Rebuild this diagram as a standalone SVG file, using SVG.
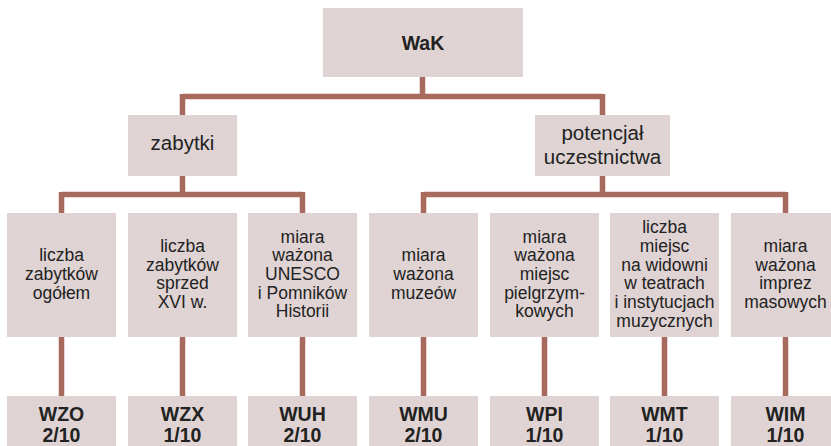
<svg xmlns="http://www.w3.org/2000/svg" width="831" height="446" viewBox="0 0 831 446">
<style>
.box{fill:#DFD4D3}
.ln{stroke:#A86A5D;stroke-width:5.5;fill:none}
text{font-family:"Liberation Sans","Noto Sans",sans-serif;fill:#222;text-anchor:middle}
.b{font-weight:bold;font-size:19.5px}
.m{font-size:20.5px}
.s{font-size:17.5px}
</style>
<rect width="831" height="446" fill="#fff"/>
<g id="connectors">
<path class="ln" d="M422.5 77V96.5M182.5 96.5H602.5M182.5 94V115M602.5 94V115"/>
<path class="ln" d="M182.5 176V194.5M61.5 194.5H302.5M61.5 192V213M302.5 192V213"/>
<path class="ln" d="M602.5 176V194.5M423.5 194.5H785.5M423.5 192V213M785.5 192V213"/>
<path class="ln" d="M61.5 337V396M182.5 337V396M302.5 337V396M423.5 337V396M544.5 337V396M664.5 337V396M785.5 337V396"/>
</g>
<g id="wak"><rect class="box" x="323" y="8" width="200" height="69"/><text class="b" x="423" y="50">WaK</text></g>
<g id="zabytki"><rect class="box" x="128" y="115" width="109" height="61"/><text class="m" x="182.5" y="150">zabytki</text></g>
<g id="potencjal"><rect class="box" x="535" y="115" width="135" height="61"/><text class="m" x="602.5" y="140">potencjał</text><text class="m" x="602.5" y="164">uczestnictwa</text></g>

<g id="n1"><rect class="box" x="7" y="213" width="109" height="124"/><text class="s" x="61.5" y="261.3">liczba</text><text class="s" x="61.5" y="280">zabytków</text><text class="s" x="61.5" y="298.7">ogółem</text></g>
<g id="n2"><rect class="box" x="128" y="213" width="109" height="124"/><text class="s" x="182.5" y="252">liczba</text><text class="s" x="182.5" y="270.7">zabytków</text><text class="s" x="182.5" y="289.3">sprzed</text><text class="s" x="182.5" y="308">XVI w.</text></g>
<g id="n3"><rect class="box" x="248" y="213" width="109" height="124"/><text class="s" x="302.5" y="242.6">miara</text><text class="s" x="302.5" y="261.3">ważona</text><text class="s" x="302.5" y="280">UNESCO</text><text class="s" x="302.5" y="298.7">i Pomników</text><text class="s" x="302.5" y="317.4">Historii</text></g>
<g id="n4"><rect class="box" x="369" y="213" width="109" height="124"/><text class="s" x="423.5" y="261.3">miara</text><text class="s" x="423.5" y="280">ważona</text><text class="s" x="423.5" y="298.7">muzeów</text></g>
<g id="n5"><rect class="box" x="490" y="213" width="109" height="124"/><text class="s" x="544.5" y="242.6">miara</text><text class="s" x="544.5" y="261.3">ważona</text><text class="s" x="544.5" y="280">miejsc</text><text class="s" x="544.5" y="298.7">pielgrzym-</text><text class="s" x="544.5" y="317.4">kowych</text></g>
<g id="n6"><rect class="box" x="610" y="213" width="109" height="124"/><text class="s" x="664.5" y="233.3">liczba</text><text class="s" x="664.5" y="252">miejsc</text><text class="s" x="664.5" y="270.7">na widowni</text><text class="s" x="664.5" y="289.3">w teatrach</text><text class="s" x="664.5" y="308">i instytucjach</text><text class="s" x="664.5" y="326.7">muzycznych</text></g>
<g id="n7"><rect class="box" x="731" y="213" width="109" height="124"/><text class="s" x="785.5" y="252">miara</text><text class="s" x="785.5" y="270.7">ważona</text><text class="s" x="785.5" y="289.3">imprez</text><text class="s" x="785.5" y="308">masowych</text></g>

<g id="wzo"><rect class="box" x="7" y="396" width="109" height="60"/><text class="b" x="61.5" y="420.7">WZO</text><text class="b" x="61.5" y="441.7">2/10</text></g>
<g id="wzx"><rect class="box" x="128" y="396" width="109" height="60"/><text class="b" x="182.5" y="420.7">WZX</text><text class="b" x="182.5" y="441.7">1/10</text></g>
<g id="wuh"><rect class="box" x="248" y="396" width="109" height="60"/><text class="b" x="302.5" y="420.7">WUH</text><text class="b" x="302.5" y="441.7">2/10</text></g>
<g id="wmu"><rect class="box" x="369" y="396" width="109" height="60"/><text class="b" x="423.5" y="420.7">WMU</text><text class="b" x="423.5" y="441.7">2/10</text></g>
<g id="wpi"><rect class="box" x="490" y="396" width="109" height="60"/><text class="b" x="544.5" y="420.7">WPI</text><text class="b" x="544.5" y="441.7">1/10</text></g>
<g id="wmt"><rect class="box" x="610" y="396" width="109" height="60"/><text class="b" x="664.5" y="420.7">WMT</text><text class="b" x="664.5" y="441.7">1/10</text></g>
<g id="wim"><rect class="box" x="731" y="396" width="109" height="60"/><text class="b" x="785.5" y="420.7">WIM</text><text class="b" x="785.5" y="441.7">1/10</text></g>
</svg>
